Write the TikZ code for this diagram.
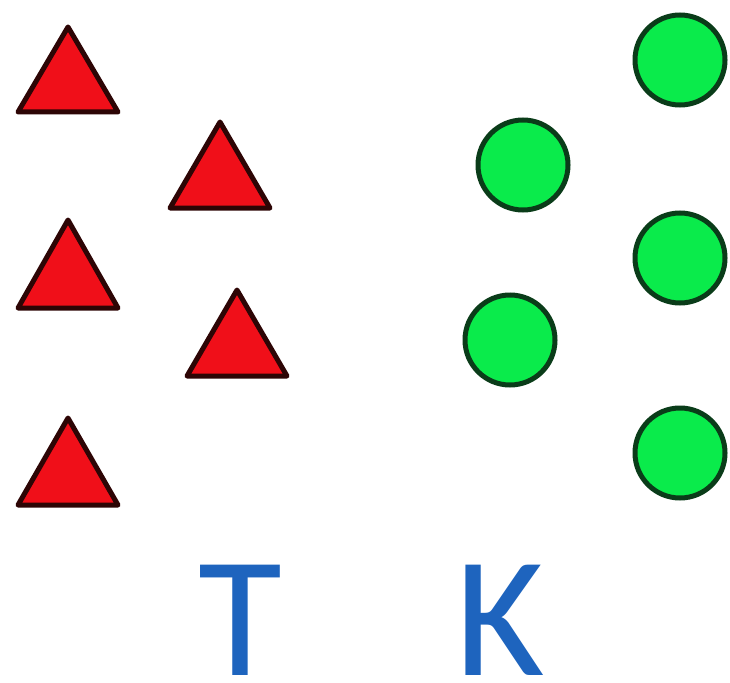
\documentclass[tikz,border=0pt]{standalone}
\usepackage{fontspec}
\setmainfont{Carlito}
\definecolor{trired}{RGB}{240,15,25}
\definecolor{triedge}{RGB}{45,5,5}
\definecolor{dotgreen}{RGB}{10,235,75}
\definecolor{dotedge}{RGB}{10,60,25}
\definecolor{letterblue}{RGB}{30,100,190}
\begin{document}
\begin{tikzpicture}[x=1pt,y=-1pt,
  tri/.style={fill=trired,draw=triedge,line width=5pt,line join=round},
  dot/.style={fill=dotgreen,draw=dotedge,line width=5pt},
  letter/.style={text=letterblue,font=\fontsize{172}{172}\selectfont,anchor=base,inner sep=0pt}]
\useasboundingbox[fill=white] (0,0) rectangle (730,682);
% triangles
\foreach \cx/\ay/\by in {68/27/112, 220/122/208, 68/220/308, 237/290/376, 68/418/505}{
  \draw[tri] (\cx,\ay) -- (\cx+50,\by) -- (\cx-50,\by) -- cycle;
}
% circles
\foreach \x/\y in {680/60, 523/165, 680/258, 510/340, 680/453}{
  \draw[dot] (\x,\y) circle[radius=45pt];
}
\node[letter] (T) at (240,675) {T};
\node[letter] (K) at (500,675) {K};
\end{tikzpicture}
\end{document}
